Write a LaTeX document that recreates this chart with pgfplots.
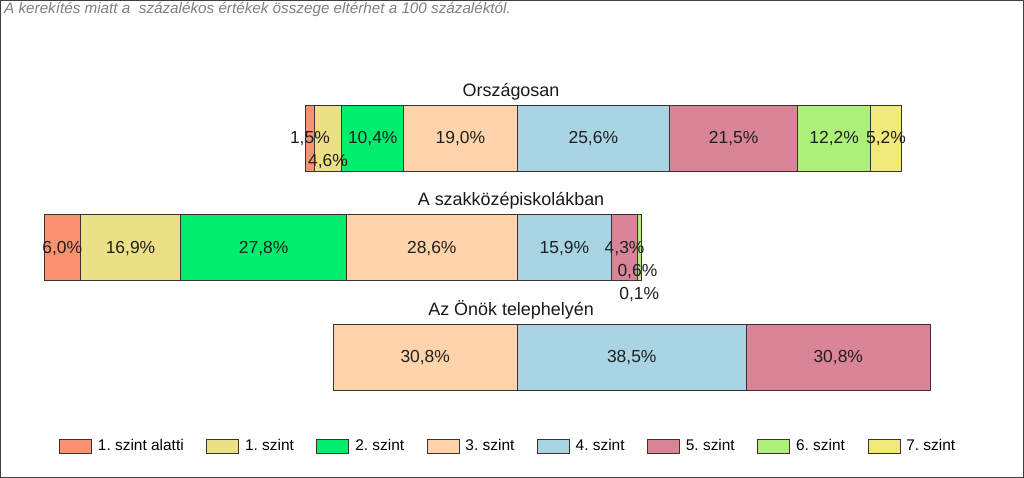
\documentclass[border=0pt]{standalone}
\usepackage{pgfplots}
\pgfplotsset{compat=1.18}
\usepackage{fontspec}
\setmainfont{Liberation Sans}
\frenchspacing

\definecolor{c0}{RGB}{250,146,112}
\definecolor{c1}{RGB}{236,224,134}
\definecolor{c2}{RGB}{0,238,110}
\definecolor{c3}{RGB}{255,212,170}
\definecolor{c4}{RGB}{168,212,228}
\definecolor{c5}{RGB}{218,132,152}
\definecolor{c6}{RGB}{172,240,122}
\definecolor{c7}{RGB}{240,234,122}
\definecolor{edge}{RGB}{60,50,45}

\tikzset{
  lab/.style={font=\fontsize{17.5}{20}\selectfont, text=black!88, anchor=base, yshift=-5.5bp, inner sep=0pt},
  ttl/.style={font=\fontsize{18}{21}\selectfont, text=black!90, anchor=base, inner sep=0pt},
}
\pgfplotsset{
  seg/.style={fill=#1, draw=edge, line width=0.8bp},
  frame/.style={
    at={(10.4bp,-83.25bp)}, anchor=north west,
    x=5.96bp, y=109.5bp,
    xmin=-5, xmax=152, ymin=0.5, ymax=3.5,
    y dir=reverse, hide axis, clip=false,
  },
}

\begin{document}
\begin{tikzpicture}
\useasboundingbox (0bp,0bp) rectangle (1024bp,-478bp);
\fill[white] (0bp,0bp) rectangle (1024bp,-478bp);
\draw[black!75, line width=1.2bp] (0.8bp,-0.8bp) rectangle (1023.2bp,-477.2bp);
\node[anchor=base west, inner sep=0pt, font=\fontsize{15.3}{18}\selectfont\itshape, text=black!50]
  at (4bp,-13.5bp) {A kerekítés miatt a\ \ százalékos értékek összege eltérhet a 100 százaléktól.};

% savok: a 3. es 4. szint hatara mindharom savnal x=80-nal van
\begin{axis}[frame, xbar stacked, bar width=66bp]
\addplot[draw=none, fill=none] coordinates {(44.5,1) (0.7,2) (49.2,3)};
\addplot[seg=c0] coordinates {(1.5,1) (6.0,2) (0,3)};
\addplot[seg=c1] coordinates {(4.6,1) (16.9,2) (0,3)};
\addplot[seg=c2] coordinates {(10.4,1) (27.8,2) (0,3)};
\addplot[seg=c3] coordinates {(19.0,1) (28.6,2) (30.8,3)};
\addplot[seg=c4] coordinates {(25.6,1) (15.9,2) (38.5,3)};
\addplot[seg=c5] coordinates {(21.5,1) (4.3,2) (30.8,3)};
\addplot[seg=c6] coordinates {(12.2,1) (0.6,2) (0,3)};
\addplot[seg=c7] coordinates {(5.2,1) (0.1,2) (0,3)};
\end{axis}

% feliratok es jelmagyarazat
\begin{axis}[frame,
  legend image code/.code={\draw[#1] (0bp,-7bp) rectangle (32bp,7bp);},
  legend columns=8,
  legend cell align=left,
  legend style={at={(0.0519,-0.1043)}, anchor=west, draw=none, fill=none,
    inner sep=0pt, font=\fontsize{15.5}{18}\selectfont,
    /tikz/every odd column/.append style={column sep=4bp},
    /tikz/every even column/.append style={column sep=20.5bp}},
]
\addlegendimage{seg=c0}\addlegendentry{1. szint alatti}
\addlegendimage{seg=c1}\addlegendentry{1. szint}
\addlegendimage{seg=c2}\addlegendentry{2. szint}
\addlegendimage{seg=c3}\addlegendentry{3. szint}
\addlegendimage{seg=c4}\addlegendentry{4. szint}
\addlegendimage{seg=c5}\addlegendentry{5. szint}
\addlegendimage{seg=c6}\addlegendentry{6. szint}
\addlegendimage{seg=c7}\addlegendentry{7. szint}

% cimek
\node[ttl] at (axis cs:79,0.6164) {Országosan};
\node[ttl] at (axis cs:79,1.6164) {A szakközépiskolákban};
\node[ttl] at (axis cs:79,2.6164) {Az Önök telephelyén};

% adatcimkek
\node[lab] at (axis cs:45.25,1) {1,5\%};
\node[lab] at (axis cs:48.3,1.2055) {4,6\%};
\node[lab] at (axis cs:55.8,1) {10,4\%};
\node[lab] at (axis cs:70.5,1) {19,0\%};
\node[lab] at (axis cs:92.8,1) {25,6\%};
\node[lab] at (axis cs:116.35,1) {21,5\%};
\node[lab] at (axis cs:133.2,1) {12,2\%};
\node[lab] at (axis cs:141.9,1) {5,2\%};

\node[lab] at (axis cs:3.7,2) {6,0\%};
\node[lab] at (axis cs:15.15,2) {16,9\%};
\node[lab] at (axis cs:37.5,2) {27,8\%};
\node[lab] at (axis cs:65.7,2) {28,6\%};
\node[lab] at (axis cs:87.95,2) {15,9\%};
\node[lab] at (axis cs:98.05,2) {4,3\%};
\node[lab] at (axis cs:100.2,2.219) {0,6\%};
\node[lab] at (axis cs:100.5,2.425) {0,1\%};

\node[lab] at (axis cs:64.6,3) {30,8\%};
\node[lab] at (axis cs:99.25,3) {38,5\%};
\node[lab] at (axis cs:133.9,3) {30,8\%};
\end{axis}
\end{tikzpicture}
\end{document}
